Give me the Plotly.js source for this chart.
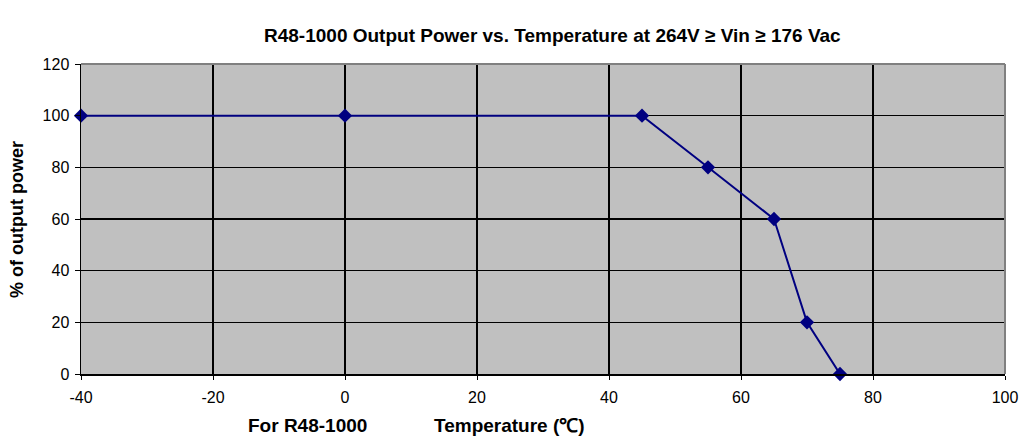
<!DOCTYPE html>
<html>
<head>
<meta charset="utf-8">
<script src="https://cdn.plot.ly/plotly-3.0.1.min.js"></script>
<style>html,body{margin:0;padding:0;background:#fff;}#chart{width:1019px;height:437px;}</style>
</head>
<body>
<div id="chart"></div>
<script>
const temperature = [-40, 0, 45, 55, 65, 70, 75];
const outputPower = [100, 100, 100, 80, 60, 20, 0];
const xTicks = [-40, -20, 0, 20, 40, 60, 80, 100];
const yTicks = [0, 20, 40, 60, 80, 100, 120];
const chartTitle = "R48-1000 Output Power vs. Temperature at 264V ≥ Vin ≥ 176 Vac";
const yTitle = "% of output power";
const xNote = "For R48-1000";
const xTitle = "Temperature (℃)";

const font = "Arial, 'Liberation Sans', sans-serif";
const W = 1019, H = 437;

const trace = {
  x: temperature, y: outputPower, type: 'scatter', mode: 'lines+markers',
  line: {color: '#000080', width: 2},
  marker: {symbol: 'diamond', size: 11, color: '#000080'},
  cliponaxis: false, hoverinfo: 'skip'
};

const layout = {
  width: W, height: H,
  margin: {l: 81, r: 14, t: 64, b: 63},
  paper_bgcolor: '#ffffff', plot_bgcolor: '#c0c0c0',
  showlegend: false,
  xaxis: {
    range: [-40, 100], tickvals: xTicks, ticktext: xTicks.map(String),
    showgrid: true, gridcolor: '#000000', gridwidth: 1.5,
    zeroline: false, showline: true, linecolor: '#000', linewidth: 1.5,
    ticks: 'outside', ticklen: 4, tickcolor: '#000', tickwidth: 1,
    ticklabelstandoff: 4,
    tickfont: {family: font, size: 16, color: '#000'},
    fixedrange: true
  },
  yaxis: {
    range: [0, 120], tickvals: yTicks, ticktext: yTicks.map(String),
    showgrid: true, gridcolor: '#000000', gridwidth: 1.5,
    zeroline: false, showline: true, linecolor: '#000', linewidth: 1.5,
    ticks: 'outside', ticklen: 5, tickcolor: '#000', tickwidth: 1,
    ticklabelstandoff: 2,
    tickfont: {family: font, size: 16, color: '#000'},
    fixedrange: true
  },
  shapes: [
    {type: 'line', xref: 'paper', yref: 'paper', x0: 0, x1: 1, y0: 1, y1: 1, line: {color: '#808080', width: 2}},
    {type: 'line', xref: 'paper', yref: 'paper', x0: 1, x1: 1, y0: 0, y1: 1, line: {color: '#808080', width: 2}}
  ],
  annotations: [
    {text: '<b>' + chartTitle + '</b>', showarrow: false, xanchor: 'center', yanchor: 'middle',
     font: {family: font, size: 19, color: '#000'}},
    {text: '<b>' + yTitle + '</b>', textangle: -90, showarrow: false, xanchor: 'center', yanchor: 'middle',
     font: {family: font, size: 18, color: '#000'}},
    {text: '<b>' + xNote + '</b>', showarrow: false, xanchor: 'center', yanchor: 'middle',
     font: {family: font, size: 19, color: '#000'}},
    {text: '<b>' + xTitle + '</b>', showarrow: false, xanchor: 'center', yanchor: 'middle',
     font: {family: font, size: 19, color: '#000'}}
  ]
};

// place annotations at page pixel positions (converted to plot-area fractions)
const spots = [[552, 35], [17, 220], [307, 425], [509, 425]];
layout.annotations.forEach((a, i) => {
  a.xref = 'paper'; a.yref = 'paper';
  const pl = 81, pw = W - 81 - 14, pt = 64, ph = H - 64 - 63;
  a.x = (spots[i][0] - pl) / pw;
  a.y = 1 - (spots[i][1] - pt) / ph;
});

Plotly.newPlot('chart', [trace], layout, {displayModeBar: false, staticPlot: true});
</script>
</body>
</html>
